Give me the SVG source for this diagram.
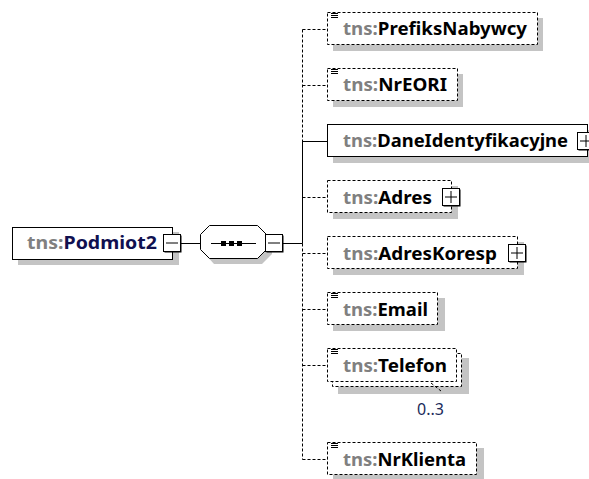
<svg xmlns="http://www.w3.org/2000/svg" width="589" height="479" viewBox="0 0 589 479">
  <style>
    .shadow { fill: #c4c4c4; }
    .box { fill: #fff; stroke: #000; stroke-width: 1; }
    .opt { fill: #fff; stroke: #000; stroke-width: 1; stroke-dasharray: 3 2; }
    .wire { fill: none; stroke: #000; stroke-width: 1; }
    .dwire { fill: none; stroke: #000; stroke-width: 1; stroke-dasharray: 3 2; }
    .lbl { font-family: "Noto Sans", "Open Sans", sans-serif; font-size: 18px; font-weight: bold; }
    .pfx { fill: #808080; }
    .nm { fill: #000; }
    .occ { font-family: "Noto Sans", "Open Sans", sans-serif; font-size: 16px; fill: #1a2a5a; }
    .tgl { fill: #fff; stroke: #000; stroke-width: 1; }
    .tglsh { fill: #000; }
    .ico { stroke: #000; stroke-width: 1; }
  </style>
  <defs>
    <g id="simpleIcon">
      <line class="ico" x1="0" y1="0.5" x2="7" y2="0.5"/>
      <line class="ico" x1="0" y1="2.5" x2="7" y2="2.5"/>
      <line class="ico" x1="0" y1="4.5" x2="7" y2="4.5"/>
    </g>
    <g id="minusBtn">
      <rect class="tglsh" x="1.5" y="1.5" width="17" height="17"/>
      <rect class="tgl" x="0.5" y="0.5" width="17" height="17"/>
      <line class="wire" x1="3" y1="9" x2="15" y2="9"/>
    </g>
    <g id="plusBtn">
      <rect class="tglsh" x="1.5" y="1.5" width="17" height="17"/>
      <rect class="tgl" x="0.5" y="0.5" width="17" height="17"/>
      <line class="wire" x1="3" y1="9" x2="15" y2="9"/>
      <line class="wire" x1="9" y1="3" x2="9" y2="15"/>
    </g>
  </defs>

  <!-- connectors -->
  <g id="connectors">
    <line class="wire" x1="181" y1="243.5" x2="200" y2="243.5"/>
    <line class="wire" x1="283" y1="243.5" x2="302.5" y2="243.5"/>
    <!-- vertical bus -->
    <line class="dwire" x1="302.5" y1="29.5" x2="302.5" y2="141.5"/>
    <line class="wire" x1="302.5" y1="141" x2="302.5" y2="243.5"/>
    <line class="dwire" x1="302.5" y1="243.5" x2="302.5" y2="459.5"/>
    <!-- branches -->
    <line class="dwire" x1="302.5" y1="29.5" x2="328" y2="29.5"/>
    <line class="dwire" x1="302.5" y1="85.5" x2="328" y2="85.5"/>
    <line class="wire" x1="302.5" y1="141.5" x2="328" y2="141.5"/>
    <line class="dwire" x1="302.5" y1="197.5" x2="328" y2="197.5"/>
    <line class="dwire" x1="302.5" y1="253.5" x2="328" y2="253.5"/>
    <line class="dwire" x1="302.5" y1="309.5" x2="328" y2="309.5"/>
    <line class="dwire" x1="302.5" y1="365.5" x2="328" y2="365.5"/>
    <line class="dwire" x1="302.5" y1="459.5" x2="328" y2="459.5"/>
  </g>

  <!-- root element -->
  <g id="Podmiot2">
    <rect class="shadow" x="18" y="232" width="161" height="33"/>
    <rect class="box" x="12.5" y="227.5" width="160" height="32"/>
    <text class="lbl" x="27" y="249" textLength="130" lengthAdjust="spacingAndGlyphs"><tspan class="pfx">tns:</tspan><tspan fill="#101050">Podmiot2</tspan></text>
    <use href="#minusBtn" x="163" y="234"/>
  </g>

  <!-- sequence compositor -->
  <g id="sequence">
    <polygon class="shadow" points="214,230 262,230 272,240 272,254 262,264 214,264 205,254 205,240"/>
    <polygon class="box" points="209.5,225.5 257.5,225.5 266.5,234.5 266.5,249.5 257.5,258.5 209.5,258.5 200.5,249.5 200.5,234.5"/>
    <line class="wire" x1="211" y1="243.5" x2="256" y2="243.5"/>
    <rect x="221" y="241" width="5" height="5" fill="#000"/>
    <rect x="229" y="241" width="5" height="5" fill="#000"/>
    <rect x="237" y="241" width="5" height="5" fill="#000"/>
    <use href="#minusBtn" x="265" y="234"/>
  </g>

  <!-- children -->
  <g id="PrefiksNabywcy">
    <rect class="shadow" x="333" y="18" width="210" height="33"/>
    <rect class="opt" x="327.5" y="12.5" width="210" height="32"/>
    <use href="#simpleIcon" x="331" y="13"/>
    <text class="lbl" x="343" y="35" textLength="184" lengthAdjust="spacingAndGlyphs"><tspan class="pfx">tns:</tspan><tspan class="nm">PrefiksNabywcy</tspan></text>
  </g>

  <g id="NrEORI">
    <rect class="shadow" x="333" y="74" width="130" height="33"/>
    <rect class="opt" x="327.5" y="68.5" width="130" height="32"/>
    <use href="#simpleIcon" x="331" y="69"/>
    <text class="lbl" x="343" y="91" textLength="104" lengthAdjust="spacingAndGlyphs"><tspan class="pfx">tns:</tspan><tspan class="nm">NrEORI</tspan></text>
  </g>

  <g id="DaneIdentyfikacyjne">
    <rect class="shadow" x="333" y="130" width="262" height="33"/>
    <rect class="box" x="327.5" y="124.5" width="260" height="32"/>
    <text class="lbl" x="343" y="147" textLength="225" lengthAdjust="spacingAndGlyphs"><tspan class="pfx">tns:</tspan><tspan class="nm">DaneIdentyfikacyjne</tspan></text>
    <use href="#plusBtn" x="577" y="132"/>
  </g>

  <g id="Adres">
    <rect class="shadow" x="333" y="186" width="125" height="33"/>
    <rect class="opt" x="327.5" y="180.5" width="124" height="32"/>
    <text class="lbl" x="343" y="204" textLength="89" lengthAdjust="spacingAndGlyphs"><tspan class="pfx">tns:</tspan><tspan class="nm">Adres</tspan></text>
    <use href="#plusBtn" x="442" y="188"/>
  </g>

  <g id="AdresKoresp">
    <rect class="shadow" x="333" y="242" width="191" height="33"/>
    <rect class="opt" x="327.5" y="236.5" width="190" height="32"/>
    <text class="lbl" x="343" y="260" textLength="154" lengthAdjust="spacingAndGlyphs"><tspan class="pfx">tns:</tspan><tspan class="nm">AdresKoresp</tspan></text>
    <use href="#plusBtn" x="508" y="244"/>
  </g>

  <g id="Email">
    <rect class="shadow" x="333" y="298" width="112" height="33"/>
    <rect class="opt" x="327.5" y="292.5" width="110" height="32"/>
    <use href="#simpleIcon" x="331" y="293"/>
    <text class="lbl" x="343" y="316" textLength="85" lengthAdjust="spacingAndGlyphs"><tspan class="pfx">tns:</tspan><tspan class="nm">Email</tspan></text>
  </g>

  <g id="Telefon">
    <rect class="shadow" x="338" y="358" width="131" height="36"/>
    <rect class="opt" x="332.5" y="353.5" width="129" height="33"/>
    <rect class="opt" x="327.5" y="348.5" width="129" height="33"/>
    <use href="#simpleIcon" x="331" y="349"/>
    <text class="lbl" x="343" y="372" textLength="104" lengthAdjust="spacingAndGlyphs"><tspan class="pfx">tns:</tspan><tspan class="nm">Telefon</tspan></text>
    <line class="dwire" x1="431" y1="383" x2="441" y2="391"/>
    <text class="occ" x="417" y="415">0..3</text>
  </g>

  <g id="NrKlienta">
    <rect class="shadow" x="333" y="448" width="151" height="33"/>
    <rect class="opt" x="327.5" y="442.5" width="149" height="32"/>
    <use href="#simpleIcon" x="331" y="443"/>
    <text class="lbl" x="343" y="466" textLength="123" lengthAdjust="spacingAndGlyphs"><tspan class="pfx">tns:</tspan><tspan class="nm">NrKlienta</tspan></text>
  </g>
</svg>
